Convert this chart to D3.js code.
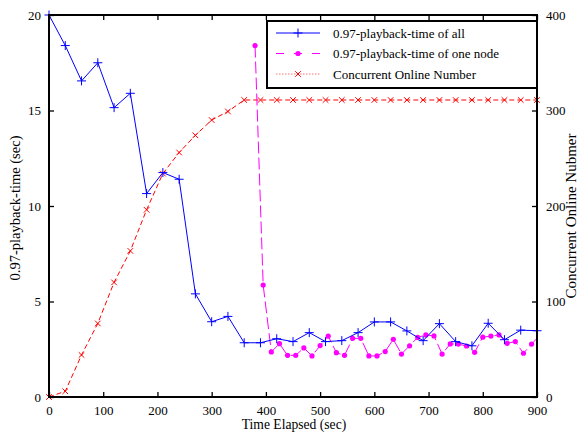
<!DOCTYPE html>
<html>
<head>
<meta charset="utf-8">
<script src="https://cdn.jsdelivr.net/npm/d3@7"></script>
<style>
  html, body { margin: 0; padding: 0; background: #fff; }
  svg { display: block; }
  text { font-family: "Liberation Serif", "Times New Roman", serif; fill: #000; }
</style>
</head>
<body>
<svg id="chart" width="580" height="436"></svg>
<script>
// Playback time of all nodes, sampled every 30 s (left axis, seconds)
const allTime = [0, 30, 60, 90, 120, 150, 180, 210, 240, 270, 300, 330, 360, 390, 420, 450,
  480, 510, 540, 570, 600, 630, 660, 690, 720, 750, 780, 810, 840, 870, 900];
const allValues = [20.0, 18.4, 16.55, 17.5, 15.15, 15.9, 10.65, 11.75, 11.4, 5.4, 3.94, 4.22,
  2.84, 2.84, 3.05, 2.9, 3.37, 2.9, 2.95, 3.37, 3.93, 3.93, 3.46, 2.95, 3.84, 2.9, 2.68,
  3.86, 3.0, 3.5, 3.47];

// Playback time of a single node, joining at ~380 s (left axis, seconds)
const nodeTime = [380, 395, 410, 425, 440, 455, 470, 485, 500, 515, 530, 545, 560, 575, 590,
  605, 620, 635, 650, 665, 680, 695, 710, 725, 740, 755, 770, 785, 800, 815, 830, 845, 860,
  875, 890, 900];
const nodeValues = [18.4, 5.86, 2.36, 2.79, 2.18, 2.18, 2.57, 2.15, 2.69, 3.19, 2.32, 2.18,
  3.07, 3.07, 2.15, 2.15, 2.38, 3.02, 2.25, 2.68, 3.12, 3.25, 3.2, 2.25, 2.78, 2.77, 2.67,
  2.34, 3.13, 3.19, 3.25, 2.81, 2.9, 2.29, 2.77, 3.07];

// Concurrent online number (right axis)
const onlineTime = allTime;
const onlineValues = [0, 6, 44, 77, 120, 153, 196, 234, 256, 274, 290, 299, 311, 311, 311,
  311, 311, 311, 311, 311, 311, 311, 311, 311, 311, 311, 311, 311, 311, 311, 311];

const xTicks = [0, 100, 200, 300, 400, 500, 600, 700, 800, 900];
const leftTicks = [0, 5, 10, 15, 20];
const rightTicks = [0, 100, 200, 300, 400];

const seriesNames = ["0.97-playback-time of all", "0.97-playback-time of one node", "Concurrent Online Number"];
const xTitle = "Time Elapsed (sec)";
const leftTitle = "0.97-playback-time (sec)";
const rightTitle = "Concurrent Online Nubmer";

const colors = { all: "#0000ff", node: "#ff00ff", online: "#ff0000" };

const svg = d3.select("#chart");
const plot = { left: 49, right: 537, top: 15, bottom: 397 };

const x = d3.scaleLinear().domain([0, 900]).range([plot.left, plot.right]);
const yL = d3.scaleLinear().domain([0, 20]).range([plot.bottom, plot.top]);
const yR = d3.scaleLinear().domain([0, 400]).range([plot.bottom, plot.top]);

const g = svg.append("g");

// ---- series ----
const lineAll = d3.line().x((d, i) => x(allTime[i])).y(d => yL(d));
const lineNode = d3.line().x((d, i) => x(nodeTime[i])).y(d => yL(d));
const lineOnline = d3.line().x((d, i) => x(onlineTime[i])).y(d => yR(d));

const plusPath = s => `M${-s},0H${s}M0,${-s}V${s}`;
const crossPath = s => `M${-s},${-s}L${s},${s}M${-s},${s}L${s},${-s}`;

// Concurrent online number: red dashed line with x markers
g.append("path").datum(onlineValues)
  .attr("d", lineOnline).attr("fill", "none")
  .attr("stroke", colors.online).attr("stroke-width", 1)
  .attr("stroke-dasharray", "5,3");
g.selectAll(".m-online").data(onlineValues).join("path")
  .attr("transform", (d, i) => `translate(${x(onlineTime[i])},${yR(d)})`)
  .attr("d", crossPath(2.8)).attr("stroke", colors.online).attr("stroke-width", 1).attr("fill", "none");

// One node: magenta dashed line with dot markers
g.append("path").datum(nodeValues)
  .attr("d", lineNode).attr("fill", "none")
  .attr("stroke", colors.node).attr("stroke-width", 1)
  .attr("stroke-dasharray", "12,4");
g.selectAll(".m-node").data(nodeValues.slice(0, nodeValues.length - 1)).join("circle")
  .attr("cx", (d, i) => x(nodeTime[i])).attr("cy", d => yL(d))
  .attr("r", 2.6).attr("fill", colors.node);

// All nodes: blue solid line with plus markers
g.append("path").datum(allValues)
  .attr("d", lineAll).attr("fill", "none")
  .attr("stroke", colors.all).attr("stroke-width", 1);
g.selectAll(".m-all").data(allValues).join("path")
  .attr("transform", (d, i) => `translate(${x(allTime[i])},${yL(d)})`)
  .attr("d", plusPath(4.5)).attr("stroke", colors.all).attr("stroke-width", 1).attr("fill", "none");

// ---- axes (ticks pointing inward) ----
const tickLen = 5;
const fontSize = 13;

const bottomAxis = d3.axisBottom(x).tickValues(xTicks).tickFormat(d3.format("d"))
  .tickSizeInner(-tickLen).tickSizeOuter(0).tickPadding(tickLen + 4);
const topAxis = d3.axisTop(x).tickValues(xTicks).tickFormat("").tickSizeInner(-tickLen).tickSizeOuter(0);
const leftAxis = d3.axisLeft(yL).tickValues(leftTicks).tickFormat(d3.format("d"))
  .tickSizeInner(-tickLen).tickSizeOuter(0).tickPadding(tickLen + 3);
const rightAxis = d3.axisRight(yR).tickValues(rightTicks).tickFormat(d3.format("d"))
  .tickSizeInner(-tickLen).tickSizeOuter(0).tickPadding(tickLen + 4);

function styleAxis(sel) {
  sel.select(".domain").remove();
  sel.selectAll(".tick line").attr("stroke", "#000").attr("stroke-width", 1.3);
  sel.selectAll(".tick text").attr("font-family", "Liberation Serif, serif")
    .attr("font-size", fontSize).attr("fill", "#000");
}

svg.append("g").attr("transform", `translate(0,${plot.bottom})`).call(bottomAxis).call(styleAxis);
svg.append("g").attr("transform", `translate(0,${plot.top})`).call(topAxis).call(styleAxis);
svg.append("g").attr("transform", `translate(${plot.left},0)`).call(leftAxis).call(styleAxis);
svg.append("g").attr("transform", `translate(${plot.right},0)`).call(rightAxis).call(styleAxis);

// Frame around the plot area
svg.append("rect")
  .attr("x", plot.left).attr("y", plot.top)
  .attr("width", plot.right - plot.left).attr("height", plot.bottom - plot.top)
  .attr("fill", "none").attr("stroke", "#000").attr("stroke-width", 2);

// ---- axis titles ----
svg.append("text").attr("x", (plot.left + plot.right) / 2 + 1).attr("y", 429)
  .attr("text-anchor", "middle").attr("font-size", 13.6).text(xTitle);
svg.append("text").attr("transform", `translate(20,208) rotate(-90)`)
  .attr("text-anchor", "middle").attr("font-size", 14.5).text(leftTitle);
svg.append("text").attr("transform", `translate(576,216) rotate(-90)`)
  .attr("text-anchor", "middle").attr("font-size", 15).text(rightTitle);

// ---- legend ----
const lg = svg.append("g");
const box = { x: 267, y: 21, w: 270, h: 67 };
lg.append("rect").attr("x", box.x).attr("y", box.y).attr("width", box.w).attr("height", box.h)
  .attr("fill", "#fff").attr("stroke", "#000").attr("stroke-width", 2);

const rows = [
  { name: seriesNames[0], color: colors.all, dash: null, marker: "plus" },
  { name: seriesNames[1], color: colors.node, dash: "8,10", marker: "dot" },
  { name: seriesNames[2], color: colors.online, dash: "1.5,1.5", marker: "cross" }
];
rows.forEach((r, i) => {
  const cy = 33 + i * 20.5;
  const x0 = 276, x1 = 320, xm = (x0 + x1) / 2;
  lg.append("line").attr("x1", x0).attr("x2", x1).attr("y1", cy).attr("y2", cy)
    .attr("stroke", r.color).attr("stroke-width", 1)
    .attr("stroke-opacity", r.marker === "cross" ? 0.55 : 1)
    .attr("stroke-dasharray", r.dash);
  if (r.marker === "plus") {
    lg.append("path").attr("transform", `translate(${xm},${cy})`).attr("d", plusPath(4.5))
      .attr("stroke", r.color).attr("stroke-width", 1);
  } else if (r.marker === "dot") {
    lg.append("circle").attr("cx", xm).attr("cy", cy).attr("r", 2.6).attr("fill", r.color);
  } else {
    lg.append("path").attr("transform", `translate(${xm},${cy})`).attr("d", crossPath(2.8))
      .attr("stroke", r.color).attr("stroke-width", 1);
  }
  lg.append("text").attr("x", 333).attr("y", cy).attr("dy", "0.35em")
    .attr("font-size", fontSize).text(r.name);
});
</script>
</body>
</html>
